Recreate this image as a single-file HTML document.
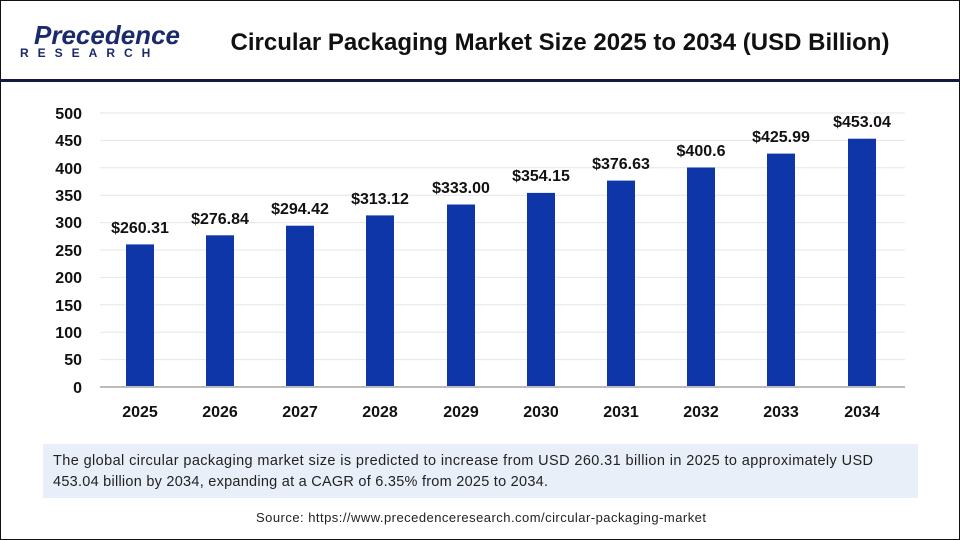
<!DOCTYPE html>
<html><head><style>
body{margin:0;width:960px;height:540px;overflow:hidden;background:#fff;font-family:"Liberation Sans",sans-serif;}
.frame{position:absolute;left:0;top:0;width:958px;height:538px;border:1px solid #111;}
</style></head><body>
<div class="frame"></div>
<svg width="960" height="540" style="position:absolute;left:0;top:0">
<text x="34" y="44" font-size="26" font-weight="bold" fill="#1a2a6c" font-family="Liberation Sans" font-style="italic">Precedence</text>
<text x="20" y="57" font-size="12" font-weight="bold" fill="#1a2a6c" letter-spacing="9">RESEARCH</text>
<text x="560" y="50" text-anchor="middle" font-size="24" font-weight="bold" fill="#111">Circular Packaging Market Size 2025 to 2034 (USD Billion)</text>
<rect x="0" y="79" width="960" height="3" fill="#141a40"/>
<g stroke="#e6e6e6" stroke-width="1">
<line x1="100" x2="905" y1="113" y2="113"/><line x1="100" x2="905" y1="140.4" y2="140.4"/><line x1="100" x2="905" y1="167.8" y2="167.8"/><line x1="100" x2="905" y1="195.2" y2="195.2"/><line x1="100" x2="905" y1="222.6" y2="222.6"/><line x1="100" x2="905" y1="250" y2="250"/><line x1="100" x2="905" y1="277.4" y2="277.4"/><line x1="100" x2="905" y1="304.8" y2="304.8"/><line x1="100" x2="905" y1="332.2" y2="332.2"/><line x1="100" x2="905" y1="359.6" y2="359.6"/>
</g>
<g font-size="16" font-weight="bold" fill="#111" text-anchor="end">
<text x="82" y="119">500</text><text x="82" y="146">450</text><text x="82" y="174">400</text><text x="82" y="201">350</text><text x="82" y="228">300</text><text x="82" y="256">250</text><text x="82" y="283">200</text><text x="82" y="311">150</text><text x="82" y="338">100</text><text x="82" y="365">50</text><text x="82" y="393">0</text>
</g>
<g fill="#0f36a8">
<rect x="126" y="244.4" width="28" height="142.6"/>
<rect x="206" y="235.3" width="28" height="151.7"/>
<rect x="286" y="225.7" width="28" height="161.3"/>
<rect x="366" y="215.4" width="28" height="171.6"/>
<rect x="447" y="204.5" width="28" height="182.5"/>
<rect x="527" y="192.9" width="28" height="194.1"/>
<rect x="607" y="180.6" width="28" height="206.4"/>
<rect x="687" y="167.5" width="28" height="219.5"/>
<rect x="767" y="153.6" width="28" height="233.4"/>
<rect x="848" y="138.7" width="28" height="248.3"/>
</g>
<line x1="100" x2="905" y1="387" y2="387" stroke="#bbb" stroke-width="2"/>
<g font-size="16" font-weight="bold" fill="#111" text-anchor="middle">
<text x="140" y="233">$260.31</text><text x="220" y="224">$276.84</text><text x="300" y="214">$294.42</text><text x="380" y="204">$313.12</text><text x="461" y="193">$333.00</text><text x="541" y="181">$354.15</text><text x="621" y="169">$376.63</text><text x="701" y="156">$400.6</text><text x="781" y="142">$425.99</text><text x="862" y="127">$453.04</text>
<text x="140" y="417">2025</text><text x="220" y="417">2026</text><text x="300" y="417">2027</text><text x="380" y="417">2028</text><text x="461" y="417">2029</text><text x="541" y="417">2030</text><text x="621" y="417">2031</text><text x="701" y="417">2032</text><text x="781" y="417">2033</text><text x="862" y="417">2034</text>
</g>
<rect x="43" y="444" width="875" height="54" fill="#e9eff8"/>
<text x="53" y="465" font-size="14.5" fill="#222" textLength="820" lengthAdjust="spacing">The global circular packaging market size is predicted to increase from USD 260.31 billion in 2025 to approximately USD</text>
<text x="53" y="486" font-size="14.5" fill="#222" textLength="495" lengthAdjust="spacing">453.04 billion by 2034, expanding at a CAGR of 6.35% from 2025 to 2034.</text>
<text x="481" y="522" text-anchor="middle" font-size="13" fill="#222" textLength="450" lengthAdjust="spacing">Source: https://www.precedenceresearch.com/circular-packaging-market</text>
</svg>
</body></html>
